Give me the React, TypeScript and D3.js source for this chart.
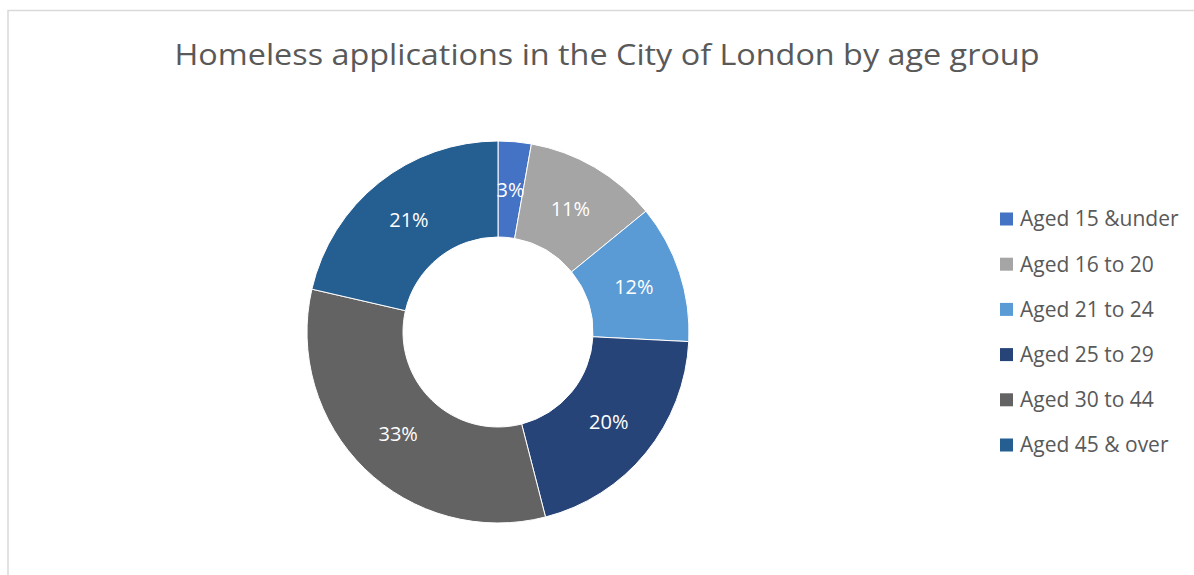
import React from "react";
import * as d3 from "d3";

const categories = ["Aged 15 &under", "Aged 16 to 20", "Aged 21 to 24", "Aged 25 to 29", "Aged 30 to 44", "Aged 45 & over"];
const shares = [2.8, 11.3, 11.7, 20.2, 32.6, 21.4];
const colors = ["#4472c4", "#a5a5a5", "#5b9bd5", "#264478", "#636363", "#255e91"];
const title = "Homeless applications in the City of London by age group";

export default function App() {
  const W = 1194, H = 575;
  const cx = 498, cy = 332, rOuter = 191, rInner = 95;
  const total = d3.sum(shares);
  const pie = d3.pie<number>().sort(null).value((d) => d);
  const arcs = pie(shares);
  const arc = d3.arc<d3.PieArcDatum<number>>().innerRadius(rInner).outerRadius(rOuter);
  const labelArc = d3.arc<d3.PieArcDatum<number>>().innerRadius(143).outerRadius(143);
  const legendY = d3.scalePoint<string>().domain(categories).range([219, 445]);
  const font = "'Open Sans', sans-serif";
  return (
    <svg width={W} height={H} style={{ position: "absolute", left: 0, top: 0 }} fontFamily={font}>
      <rect x={0} y={0} width={W} height={H} fill="#fff" />
      <rect x={8} y={10.5} width={W + 10} height={H + 10} fill="#fff" stroke="#d9d9d9" strokeWidth={1.5} />
      <text x={607} y={65} textAnchor="middle" fontSize={30} fill="#595959" textLength={865} lengthAdjust="spacingAndGlyphs">{title}</text>
      <g transform={`translate(${cx},${cy})`}>
        {arcs.map((a, i) => (
          <path key={i} d={arc(a) || ""} fill={colors[i]} stroke="#fff" strokeWidth={1} />
        ))}
        {arcs.map((a, i) => {
          const [x, y] = labelArc.centroid(a);
          return (
            <text key={"l" + i} x={x} y={y} dy="0.35em" textAnchor="middle" fontSize={20} fill="#fff">
              {Math.round((shares[i] / total) * 100)}%
            </text>
          );
        })}
      </g>
      {categories.map((c, i) => {
        const y = legendY(c) as number;
        return (
          <g key={c}>
            <rect x={1000} y={y - 6.5} width={13} height={13} fill={colors[i]} />
            <text x={1020} y={y} dy="0.35em" fontSize={21} fill="#595959">{c}</text>
          </g>
        );
      })}
    </svg>
  );
}
